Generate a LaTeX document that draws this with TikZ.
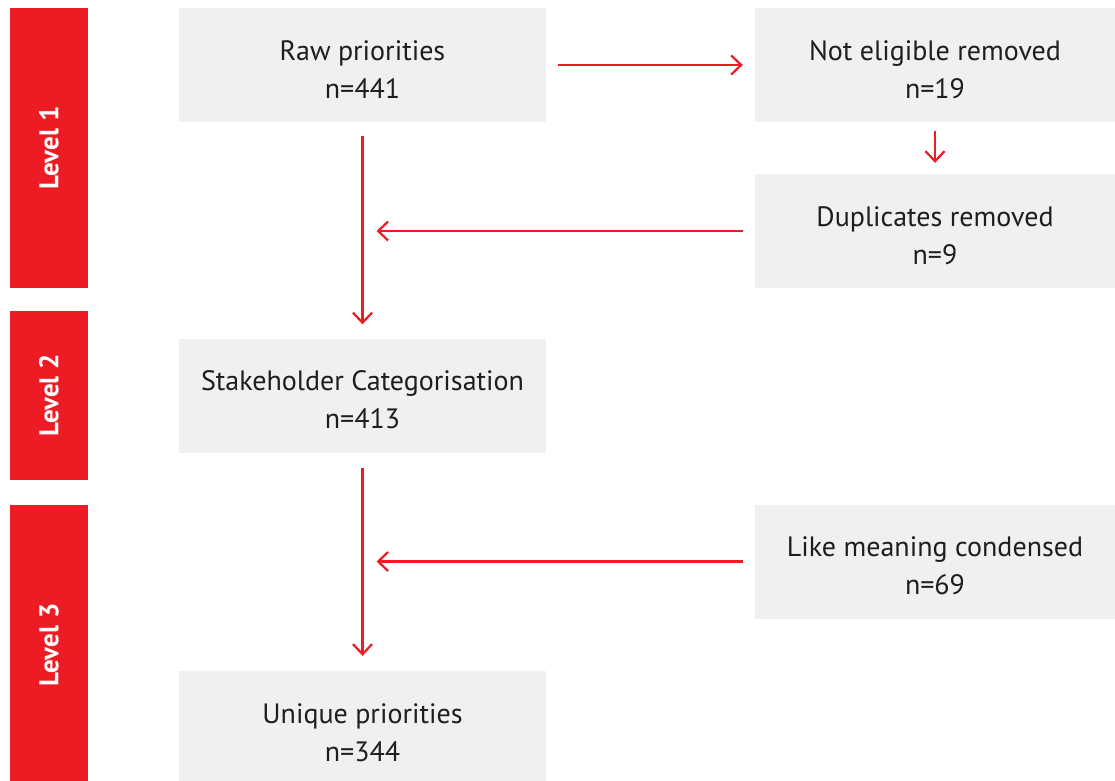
\documentclass[tikz,border=0pt]{standalone}
\usepackage{fontspec}
\setmainfont{PT Sans}
\usetikzlibrary{arrows.meta,calc}
\definecolor{lvlred}{HTML}{ED1C24}
\definecolor{boxgray}{HTML}{F0F0F0}
\definecolor{txtdark}{HTML}{1E1E1E}
% two-line box text, sitting a little below the middle of its box
\newcommand{\steptext}[2]{\raisebox{0pt}[\height][\dimexpr\depth-13pt\relax]{\begin{tabular}{@{}c@{}}#1\\#2\end{tabular}}}

\begin{document}
\begin{tikzpicture}[x=1pt, y=-1pt,
  every node/.style={inner sep=0pt, align=center},
  stepbox/.style={fill=boxgray, minimum width=367pt, minimum height=114pt, text=txtdark, font=\fontsize{28}{38}\selectfont},
  sidebox/.style={stepbox, minimum width=360pt},
  levelbar/.style={fill=lvlred, rotate=90, minimum height=78pt, text=white, font=\fontsize{27}{30}\selectfont\bfseries},
  flow/.style={draw=lvlred, line width=2.2pt, -{Straight Barb[length=10pt,width=19pt,line width=2.2pt]}},
  ]
  \useasboundingbox (0,0) rectangle (1115,780);
  \clip (0,0) rectangle (1115,780);

  % level bars down the left side
  \node[levelbar, minimum width=280pt] (lvl1) at (49,148)   {Level 1};
  \node[levelbar, minimum width=169pt] (lvl2) at (49,395.5) {Level 2};
  \node[levelbar, minimum width=280pt] (lvl3) at (49,645)   {Level 3};

  % main column
  \node[stepbox] (raw)    at (362.5,65)    {\steptext{Raw priorities}{n=441}};
  \node[stepbox] (stake)  at (362.5,395.5) {\steptext{Stakeholder Categorisation}{n=413}};
  \node[stepbox] (unique) at (362.5,728)   {\steptext{Unique priorities}{n=344}};

  % removals / merges on the right
  \node[sidebox] (notelig) at (935,65)    {\steptext{Not eligible removed}{n=19}};
  \node[sidebox] (dupl)    at (935,231)   {\steptext{Duplicates removed}{n=9}};
  \node[sidebox] (like)    at (935,561.5) {\steptext{Like meaning condensed}{n=69}};

  % arrows
  \draw[flow, shorten <=12pt, shorten >=12pt] (raw) -- (notelig);
  \draw[flow, shorten <=9pt, shorten >=11pt] (notelig) -- (dupl);
  \draw[flow, shorten <=14pt, shorten >=14pt] (raw) -- (stake);
  \draw[flow, shorten <=15pt, shorten >=15pt] (stake) -- (unique);
  \draw[flow, shorten <=12pt, shorten >=14pt] (dupl.west) -- (raw.south |- dupl.west);
  \draw[flow, shorten <=12pt, shorten >=14pt] (like.west) -- (raw.south |- like.west);
\end{tikzpicture}
\end{document}
